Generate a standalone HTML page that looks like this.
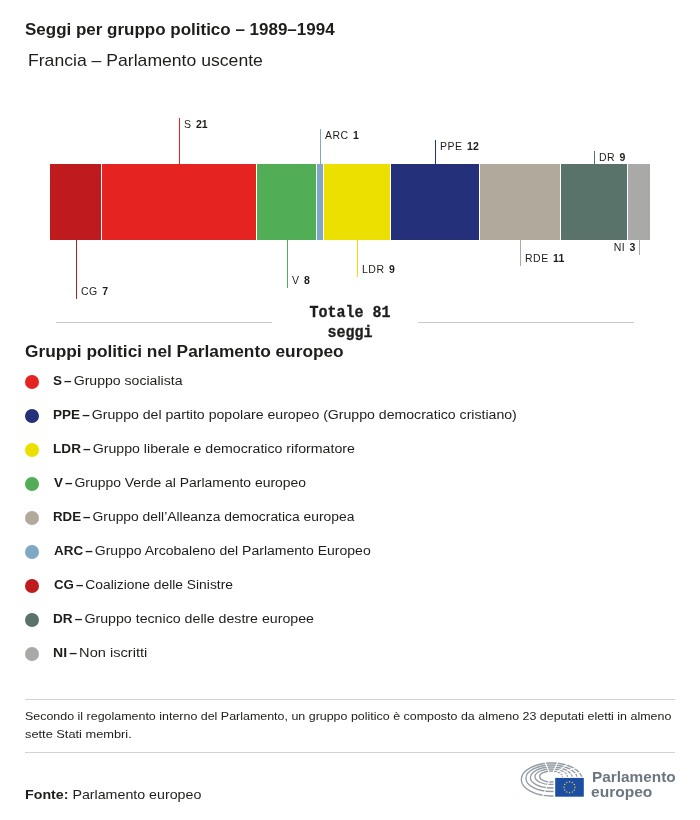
<!DOCTYPE html>
<html><head><meta charset="utf-8">
<style>
html,body{margin:0;padding:0;background:#fff;}
body{width:700px;height:820px;position:relative;overflow:hidden;font-family:"Liberation Sans",sans-serif;color:#1d1d1b;}
.abs{position:absolute;white-space:nowrap;transform-origin:0 0;will-change:transform;}
.dot{position:absolute;left:25px;width:14px;height:14px;border-radius:50%;}
.hr{position:absolute;left:25px;width:650px;height:1px;background:#d2d2d2;}
svg text{font-family:"Liberation Sans",sans-serif;font-size:10.5px;fill:#1d1d1b;letter-spacing:0.5px;}
svg text tspan{font-weight:bold;letter-spacing:0.1px;}
</style></head><body>
<div class="hr" style="top:699px"></div>
<div class="hr" style="top:752px"></div>
<div class="abs" id="title" style="left:25.10px;top:20.3px;font-size:16px;font-weight:bold;line-height:20px;transform:scaleX(1.0615)">Seggi per gruppo politico – 1989–1994</div>
<div class="abs" id="sub" style="left:27.60px;top:50px;font-size:17px;font-weight:normal;line-height:22px;transform:scaleX(1.0356)">Francia – Parlamento uscente</div>
<div class="abs" id="lh" style="left:24.50px;top:342px;font-size:16px;font-weight:bold;line-height:20px;transform:scaleX(1.0796)">Gruppi politici nel Parlamento europeo</div>
<div class="abs" id="l1" style="left:52.50px;top:372.7px;font-size:12.5px;font-weight:normal;line-height:16px;transform:scaleX(1.1264)"><b style="word-spacing:-1.5px;font-size:12px">S – </b>Gruppo socialista</div>
<div class="abs" id="l2" style="left:52.50px;top:406.7px;font-size:12.5px;font-weight:normal;line-height:16px;transform:scaleX(1.1286)"><b style="word-spacing:-1.5px;font-size:12px">PPE – </b>Gruppo del partito popolare europeo (Gruppo democratico cristiano)</div>
<div class="abs" id="l3" style="left:52.50px;top:440.7px;font-size:12.5px;font-weight:normal;line-height:16px;transform:scaleX(1.1332)"><b style="word-spacing:-1.5px;font-size:12px">LDR – </b>Gruppo liberale e democratico riformatore</div>
<div class="abs" id="l4" style="left:53.50px;top:474.7px;font-size:12.5px;font-weight:normal;line-height:16px;transform:scaleX(1.1146)"><b style="word-spacing:-1.5px;font-size:12px">V – </b>Gruppo Verde al Parlamento europeo</div>
<div class="abs" id="l5" style="left:52.50px;top:508.7px;font-size:12.5px;font-weight:normal;line-height:16px;transform:scaleX(1.1081)"><b style="word-spacing:-1.5px;font-size:12px">RDE – </b>Gruppo dell’Alleanza democratica europea</div>
<div class="abs" id="l6" style="left:53.50px;top:542.7px;font-size:12.5px;font-weight:normal;line-height:16px;transform:scaleX(1.1216)"><b style="word-spacing:-1.5px;font-size:12px">ARC – </b>Gruppo Arcobaleno del Parlamento Europeo</div>
<div class="abs" id="l7" style="left:53.50px;top:576.7px;font-size:12.5px;font-weight:normal;line-height:16px;transform:scaleX(1.1062)"><b style="word-spacing:-1.5px;font-size:12px">CG – </b>Coalizione delle Sinistre</div>
<div class="abs" id="l8" style="left:52.50px;top:610.7px;font-size:12.5px;font-weight:normal;line-height:16px;transform:scaleX(1.1351)"><b style="word-spacing:-1.5px;font-size:12px">DR – </b>Gruppo tecnico delle destre europee</div>
<div class="abs" id="l9" style="left:52.50px;top:644.7px;font-size:12.5px;font-weight:normal;line-height:16px;transform:scaleX(1.1684)"><b style="word-spacing:-1.5px;font-size:12px">NI – </b>Non iscritti</div>
<div class="abs" id="n1" style="left:25.10px;top:707px;font-size:11.5px;font-weight:normal;line-height:18px;transform:scaleX(1.0824)">Secondo il regolamento interno del Parlamento, un gruppo politico è composto da almeno 23 deputati eletti in almeno</div>
<div class="abs" id="n2" style="left:25.10px;top:725px;font-size:11.5px;font-weight:normal;line-height:18px;transform:scaleX(1.1138)">sette Stati membri.</div>
<div class="abs" id="src" style="left:25.10px;top:786px;font-size:13.5px;font-weight:normal;line-height:18px;transform:scaleX(1.0536)"><b>Fonte:</b> Parlamento europeo</div>
<div class="abs" id="p1" style="left:591.70px;top:769px;font-size:14px;font-weight:bold;line-height:16px;transform:scaleX(1.0973);color:#6b7681">Parlamento</div>
<div class="abs" id="p2" style="left:591.40px;top:784.4px;font-size:14px;font-weight:bold;line-height:16px;transform:scaleX(1.1100);color:#6b7681">europeo</div>
<div class="dot" style="top:375px;background:#e52421"></div>
<div class="dot" style="top:409px;background:#24317a"></div>
<div class="dot" style="top:443px;background:#ece000"></div>
<div class="dot" style="top:477px;background:#52ae56"></div>
<div class="dot" style="top:511px;background:#b1a99b"></div>
<div class="dot" style="top:545px;background:#7fa8c4"></div>
<div class="dot" style="top:579px;background:#bf1a1d"></div>
<div class="dot" style="top:613px;background:#59736b"></div>
<div class="dot" style="top:647px;background:#a9aaa7"></div>
<svg class="abs" style="left:0;top:0" width="700" height="345" viewBox="0 0 700 345">
<g shape-rendering="crispEdges">
<rect x="50" y="164" width="51" height="76" fill="#bf1a1d"/>
<rect x="102" y="164" width="154" height="76" fill="#e52421"/>
<rect x="257" y="164" width="59" height="76" fill="#52ae56"/>
<rect x="317" y="164" width="6" height="76" fill="#7fa8c4"/>
<rect x="324" y="164" width="66" height="76" fill="#ece000"/>
<rect x="391" y="164" width="88" height="76" fill="#24317a"/>
<rect x="480" y="164" width="80" height="76" fill="#b1a99b"/>
<rect x="561" y="164" width="66" height="76" fill="#59736b"/>
<rect x="628" y="164" width="22" height="76" fill="#a9aaa7"/>
</g>
<g stroke-width="1">
<line x1="76.5" y1="240" x2="76.5" y2="299" stroke="#bf1a1d"/>
<line x1="179.5" y1="118" x2="179.5" y2="164" stroke="#e52421"/>
<line x1="287.5" y1="240" x2="287.5" y2="288" stroke="#52ae56"/>
<line x1="320.5" y1="129" x2="320.5" y2="164" stroke="#7fa8c4"/>
<line x1="357.5" y1="240" x2="357.5" y2="277" stroke="#ece000"/>
<line x1="435.5" y1="140" x2="435.5" y2="164" stroke="#24317a"/>
<line x1="520.5" y1="240" x2="520.5" y2="266" stroke="#b1a99b"/>
<line x1="594.5" y1="151" x2="594.5" y2="164" stroke="#59736b"/>
<line x1="639.5" y1="240" x2="639.5" y2="255" stroke="#a9aaa7"/>
</g>
<text x="81" y="295">CG <tspan dx="1">7</tspan></text>
<text x="184" y="128">S <tspan dx="1">21</tspan></text>
<text x="292" y="284">V <tspan dx="1">8</tspan></text>
<text x="325" y="139">ARC <tspan dx="1">1</tspan></text>
<text x="362" y="273">LDR <tspan dx="1">9</tspan></text>
<text x="440" y="150">PPE <tspan dx="1">12</tspan></text>
<text x="525" y="262">RDE <tspan dx="1">11</tspan></text>
<text x="599" y="161">DR <tspan dx="1">9</tspan></text>
<text x="635.5" y="251" text-anchor="end">NI <tspan dx="1">3</tspan></text>
<line x1="56" y1="322.5" x2="272" y2="322.5" stroke="#cbcbcb" shape-rendering="crispEdges"/>
<line x1="418" y1="322.5" x2="634" y2="322.5" stroke="#cbcbcb" shape-rendering="crispEdges"/>
<g style="font-family:'Liberation Mono',monospace;font-weight:bold;font-size:16px;letter-spacing:0" text-anchor="middle" stroke="#1d1d1b" stroke-width="0.3">
<text transform="translate(350,316.7) scale(0.94,1)" style="font-family:inherit;font-size:inherit;letter-spacing:0">Totale 81</text>
<text transform="translate(350,336.7) scale(0.94,1)" style="font-family:inherit;font-size:inherit;letter-spacing:0">seggi</text>
</g>
</svg>
<svg class="abs" style="left:515px;top:755px" width="80" height="50" viewBox="515 755 80 50">
<g fill="none" stroke="#949ba2" stroke-width="1.3">
<ellipse cx="551.7" cy="779.5" rx="30.4" ry="16.5"/>
<ellipse cx="551.5" cy="778.25" rx="25.6" ry="13.25"/>
<ellipse cx="551.3" cy="777.5" rx="20.9" ry="10.5"/>
<ellipse cx="551.2" cy="776.75" rx="16.2" ry="7.75"/>
<ellipse cx="551" cy="776.5" rx="11.4" ry="5.5"/>
</g>
<g stroke="#fff" stroke-width="1.1">
<line x1="551" y1="777" x2="543" y2="757"/>
<line x1="551" y1="777" x2="560" y2="757"/>
<line x1="551" y1="777" x2="574" y2="759"/>
<line x1="551" y1="777" x2="586" y2="764"/>
<line x1="551" y1="777" x2="590" y2="771"/>
<line x1="551" y1="777" x2="541" y2="800"/>
</g>
<rect x="553.6" y="776.7" width="32" height="24" fill="#fff"/>
<rect x="555.2" y="777.9" width="28.6" height="18.8" fill="#1d4ea2"/>
<g fill="#e6d23c">
<circle cx="569.5" cy="781.8" r="0.7"/><circle cx="572.25" cy="782.54" r="0.7"/><circle cx="574.26" cy="784.55" r="0.7"/><circle cx="575" cy="787.3" r="0.7"/>
<circle cx="574.26" cy="790.05" r="0.7"/><circle cx="572.25" cy="792.06" r="0.7"/><circle cx="569.5" cy="792.8" r="0.7"/><circle cx="566.75" cy="792.06" r="0.7"/>
<circle cx="564.74" cy="790.05" r="0.7"/><circle cx="564" cy="787.3" r="0.7"/><circle cx="564.74" cy="784.55" r="0.7"/><circle cx="566.75" cy="782.54" r="0.7"/>
</g>
</svg>
</body></html>
